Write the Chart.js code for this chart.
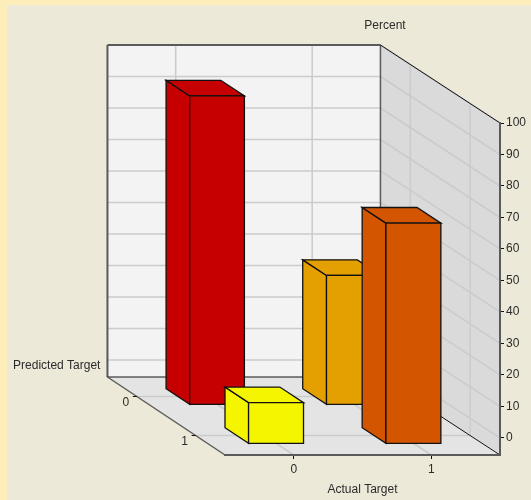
<!DOCTYPE html>
<html lang="en">
<head>
  <meta charset="UTF-8">
  <title>Predicted vs Actual Target</title>
  <script src="https://cdn.jsdelivr.net/npm/chart.js"></script>
  <style>
    html, body { margin: 0; padding: 0; background: #fdeeb9; }
    #panel { position: absolute; left: 7px; top: 5px; width: 524px; height: 495px; background: #ece9d8; }
    #chart { position: absolute; left: 0; top: 0; }
  </style>
</head>
<body>
  <div id="panel"></div>
  <canvas id="chart" width="531" height="500"></canvas>

  <script>
    const actualTargets = ['0', '1'];
    const predictedTargets = ['0', '1'];
    const predictedAs0 = [92.5, 35.5];
    const predictedAs1 = [7.5, 64.5];
    const colorsAs0 = ['#c60000', '#e4a000'];
    const colorsAs1 = ['#f5f500', '#d45500'];
    const percentTicks = [0, 10, 20, 30, 40, 50, 60, 70, 80, 90, 100];

    const FLOOR = -5.4;        // value where the floor meets the right axis
    const DEPTH_X = 115.9;     // how far the back plane sits left of the front plane
    const DEPTH_TAPER = 0.0073; // the back plane is a touch narrower than the front
    const DEPTH_Y = 78;        // and how far above it
    const BAR_DEPTH = 0.1;     // half a bar's thickness, as a share of the floor depth
    const FAMILY = '"Liberation Sans", Arial, sans-serif';
    const FONT = '12px ' + FAMILY;
    const TEXT = '#2b2b2b';
    const GRID = '#cbcbcb';
    const FRAME = '#5a5a5a';

    // oblique projection: f is 0 at the back wall, 1 at the front edge
    function project(x, y, f) {
      return [x - (1 - f) * (DEPTH_X + x * DEPTH_TAPER), y - (1 - f) * DEPTH_Y];
    }

    function poly(ctx, pts, fill, stroke, width) {
      ctx.beginPath();
      pts.forEach((p, i) => i ? ctx.lineTo(p[0], p[1]) : ctx.moveTo(p[0], p[1]));
      ctx.closePath();
      if (fill) { ctx.fillStyle = fill; ctx.fill(); }
      if (stroke) { ctx.strokeStyle = stroke; ctx.lineWidth = width || 1; ctx.stroke(); }
    }

    function line(ctx, a, b, color, width) {
      ctx.beginPath();
      ctx.moveTo(a[0], a[1]);
      ctx.lineTo(b[0], b[1]);
      ctx.strokeStyle = color;
      ctx.lineWidth = width;
      ctx.stroke();
    }

    function depthShare(chart, label) {
      const d = chart.scales.depth;
      return (d.getPixelForValue(label) - d.top) / d.height;
    }

    const box3d = {
      id: 'box3d',

      // walls, floor and their grid lines, behind the axes
      beforeDraw(chart) {
        const { ctx, chartArea: a, scales } = chart;
        const top = scales.y.getPixelForValue(100);
        const bottom = a.bottom;

        poly(ctx, [project(a.left, top, 0), project(a.right, top, 0), project(a.right, bottom, 0), project(a.left, bottom, 0)], '#f3f3f3');
        poly(ctx, [project(a.right, top, 0), [a.right, top], [a.right, bottom], project(a.right, bottom, 0)], '#dadada');
        poly(ctx, [project(a.left, bottom, 0), project(a.right, bottom, 0), [a.right, bottom], [a.left, bottom]], '#e4e4e4');

        percentTicks.forEach(v => {
          const y = scales.y.getPixelForValue(v);
          line(ctx, project(a.left, y, 0), project(a.right, y, 0), GRID, 1.5);
          line(ctx, project(a.right, y, 0), [a.right, y], GRID, 1.5);
        });
        actualTargets.forEach(l => {
          const x = scales.x.getPixelForValue(l);
          line(ctx, project(x, top, 0), project(x, bottom, 0), GRID, 1.5);
          line(ctx, project(x, bottom, 0), [x, bottom], GRID, 1.5);
        });
        predictedTargets.forEach(l => {
          const f = depthShare(chart, l);
          line(ctx, project(a.left, bottom, f), project(a.right, bottom, f), GRID, 1.5);
          line(ctx, project(a.right, top, f), project(a.right, bottom, f), GRID, 1.5);
        });

        // frame of the box
        line(ctx, project(a.left, top, 0), project(a.left, bottom, 0), FRAME, 2);
        line(ctx, project(a.left, top, 0), project(a.right, top, 0), FRAME, 2);
        line(ctx, project(a.right, top, 0), project(a.right, bottom, 0), FRAME, 1.5);
        line(ctx, project(a.left, bottom, 0), project(a.right, bottom, 0), '#111', 1);
        line(ctx, project(a.right, top, 0), [a.right, top], '#111', 1);
        line(ctx, project(a.right, bottom, 0), [a.right, bottom], '#111', 1);
        line(ctx, project(a.left, bottom, 0), [a.left, bottom], FRAME, 1.5);

        // labels of the depth axis on the floor's left edge
        ctx.font = FONT;
        ctx.textAlign = 'center';
        ctx.textBaseline = 'middle';
        predictedTargets.forEach(l => {
          const p = project(a.left, bottom, depthShare(chart, l));
          line(ctx, p, [p[0] - 4, p[1]], '#111', 1);
          ctx.fillStyle = TEXT;
          ctx.fillText(l, p[0] - 11, p[1] + 6);
        });
        ctx.textAlign = 'right';
        const corner = project(a.left, bottom, 0);
        ctx.fillText('Predicted Target', corner[0] - 7, corner[1] - 11);
        ctx.textAlign = 'center';
        ctx.fillText('Percent', 385, project(a.right, top, 0)[1] - 19);
      },

      // bars are drawn here as boxes from the geometry the bar controller worked out
      beforeDatasetDraw(chart, { meta }) {
        const { ctx } = chart;
        const f = depthShare(chart, chart.data.datasets[meta.index].row);
        const front = f + BAR_DEPTH;
        const back = f - BAR_DEPTH;
        ctx.save();
        meta.data.forEach(bar => {
          const fill = bar.options.backgroundColor;
          const left = bar.x - bar.width / 2;
          const right = bar.x + bar.width / 2;
          const edge = '#111';
          poly(ctx, [project(left, bar.y, back), project(left, bar.y, front), project(left, bar.base, front), project(left, bar.base, back)], fill, edge, 1.3);
          poly(ctx, [project(left, bar.y, back), project(right, bar.y, back), project(right, bar.y, front), project(left, bar.y, front)], fill, edge, 1.3);
          poly(ctx, [project(left, bar.y, front), project(right, bar.y, front), project(right, bar.base, front), project(left, bar.base, front)], fill, edge, 1.3);
        });
        ctx.restore();
        return false;
      }
    };

    new Chart(document.getElementById('chart'), {
      type: 'bar',
      plugins: [box3d],
      data: {
        labels: actualTargets,
        datasets: [
          { label: 'Predicted 0', row: predictedTargets[0], data: predictedAs0, backgroundColor: colorsAs0, base: FLOOR, order: 2, clip: false },
          { label: 'Predicted 1', row: predictedTargets[1], data: predictedAs1, backgroundColor: colorsAs1, base: FLOOR, order: 1, clip: false }
        ]
      },
      options: {
        responsive: false,
        animation: false,
        layout: { padding: { left: 225, top: 123, right: 0, bottom: 0 } },
        grouped: false,
        barPercentage: 0.4,
        categoryPercentage: 1,
        plugins: { legend: { display: false }, tooltip: { enabled: false } },
        scales: {
          x: {
            offset: true,
            afterFit: s => { s.height = 45; },
            grid: { offset: false, drawOnChartArea: false, tickLength: 4, tickColor: '#111' },
            border: { color: FRAME, width: 2 },
            ticks: { color: TEXT, font: { family: FAMILY, size: 12 }, padding: 3, maxRotation: 0 },
            title: { display: true, text: 'Actual Target', color: TEXT, font: { family: FAMILY, size: 12 }, padding: { top: 0, bottom: 3 } }
          },
          y: {
            position: 'right',
            min: FLOOR,
            max: 100,
            afterFit: s => { s.width = 31; },
            afterBuildTicks: s => { s.ticks = percentTicks.map(value => ({ value })); },
            grid: { drawOnChartArea: false, tickLength: 4, tickColor: '#111' },
            border: { color: FRAME, width: 2 },
            ticks: { color: TEXT, font: { family: FAMILY, size: 12 }, padding: 2 }
          },
          depth: {
            type: 'category',
            axis: 'y',
            labels: predictedTargets,
            offset: true,
            display: false
          }
        }
      }
    });
  </script>
</body>
</html>
